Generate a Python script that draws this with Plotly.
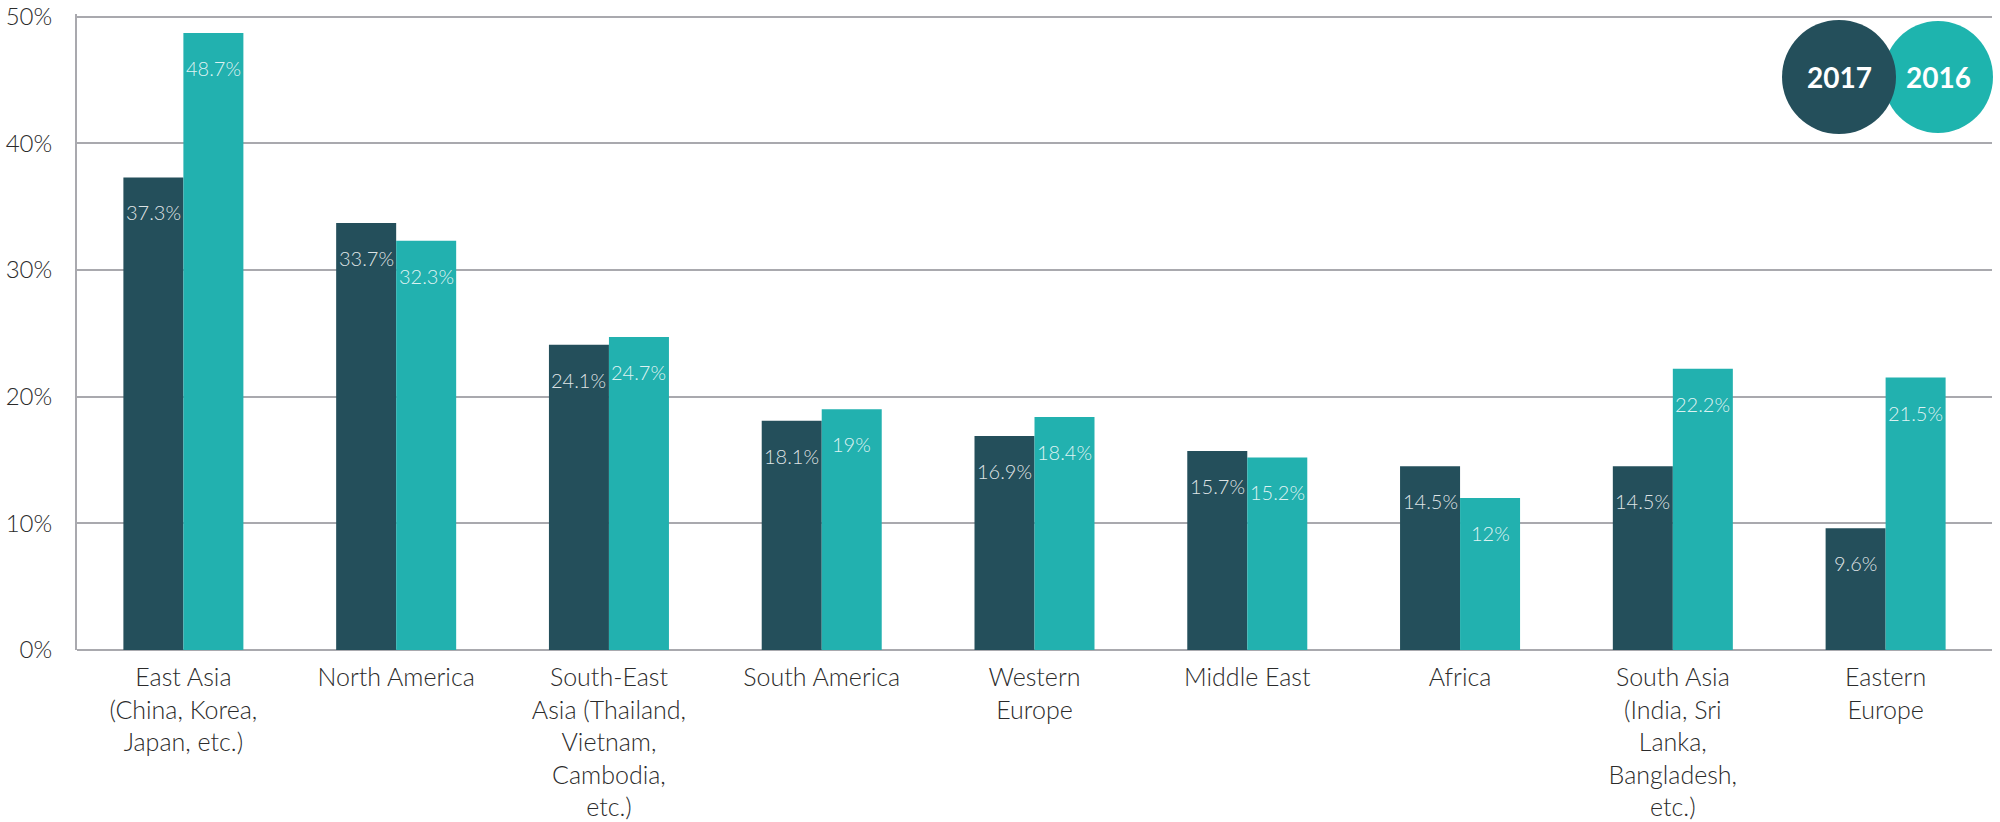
import plotly.graph_objects as go

categories = [
    "East Asia<br>(China, Korea,<br>Japan, etc.)",
    "North America",
    "South-East<br>Asia (Thailand,<br>Vietnam,<br>Cambodia,<br>etc.)",
    "South America",
    "Western<br>Europe",
    "Middle East",
    "Africa",
    "South Asia<br>(India, Sri<br>Lanka,<br>Bangladesh,<br>etc.)",
    "Eastern<br>Europe",
]
values_2017 = [37.3, 33.7, 24.1, 18.1, 16.9, 15.7, 14.5, 14.5, 9.6]
values_2016 = [48.7, 32.3, 24.7, 19, 18.4, 15.2, 12, 22.2, 21.5]
y_ticks = [0, 10, 20, 30, 40, 50]
y_tick_labels = ["0%", "10%", "20%", "30%", "40%", "50%"]

DARK = "#244f5b"
TEAL = "#22b1af"
TEAL_LEG = "#1eb4ae"
GRID = "#a9a9ae"
TXT = "#2b2b2b"
FONT = "Lato"

fig = go.Figure()
fig.add_trace(go.Bar(x=categories, y=values_2017, name="2017", marker_color=DARK,
                     marker_line_width=0, hoverinfo="skip"))
fig.add_trace(go.Bar(x=categories, y=values_2016, name="2016", marker_color=TEAL,
                     marker_line_width=0, hoverinfo="skip"))

BAR_HALF = 30
for cat, v17, v16 in zip(categories, values_2017, values_2016):
    for v, sh in ((v17, -BAR_HALF), (v16, BAR_HALF)):
        fig.add_annotation(x=cat, y=v, xref="x", yref="y", text=f"{v:g}%",
                           showarrow=False, xshift=sh, yshift=-35,
                           xanchor="center", yanchor="middle",
                           font=dict(family=FONT, size=20, color="rgba(255,255,255,0.86)", weight=300))

# legend circles (pixel-sized, anchored to top-right of plot area)
fig.add_shape(type="circle", xref="paper", yref="paper", xsizemode="pixel", ysizemode="pixel",
              xanchor=1, yanchor=1, x0=-109, x1=1, y0=-119, y1=-7,
              fillcolor=TEAL_LEG, line_width=0, layer="above")
fig.add_shape(type="circle", xref="paper", yref="paper", xsizemode="pixel", ysizemode="pixel",
              xanchor=1, yanchor=1, x0=-210, x1=-96, y0=-120, y1=-6,
              fillcolor=DARK, line_width=0, layer="above")
for label, xs in (("2017", -153), ("2016", -54)):
    fig.add_annotation(x=1, y=1, xref="paper", yref="paper", text=f"<b>{label}</b>",
                       showarrow=False, xshift=xs, yshift=-63, xanchor="center", yanchor="middle",
                       font=dict(family=FONT, size=28, color="white"))

fig.update_layout(
    width=2000, height=822,
    margin=dict(l=77, r=8, t=14, b=172, autoexpand=False),
    paper_bgcolor="white", plot_bgcolor="white",
    barmode="group", bargap=0.436, bargroupgap=0,
    showlegend=False,
    font=dict(family=FONT, color=TXT),
)
fig.update_xaxes(
    showgrid=False, showline=False, zeroline=False, ticks="",
    tickfont=dict(family=FONT, size=25, color=TXT, weight=300),
    ticklabelstandoff=10, automargin=False,
)
fig.update_yaxes(
    range=[0, 50.2], tickvals=y_ticks, ticktext=y_tick_labels,
    showgrid=True, gridcolor=GRID, gridwidth=2,
    zeroline=True, zerolinecolor=GRID, zerolinewidth=2,
    showline=True, linecolor=GRID, linewidth=2,
    ticks="", tickfont=dict(family=FONT, size=24, color=TXT, weight=300),
    ticklabelstandoff=18, ticklabeloverflow="allow", automargin=False,
)

fig.write_html("out.html", config={"displayModeBar": False},
               post_script="document.body.style.margin='0';document.body.style.overflow='hidden';")
